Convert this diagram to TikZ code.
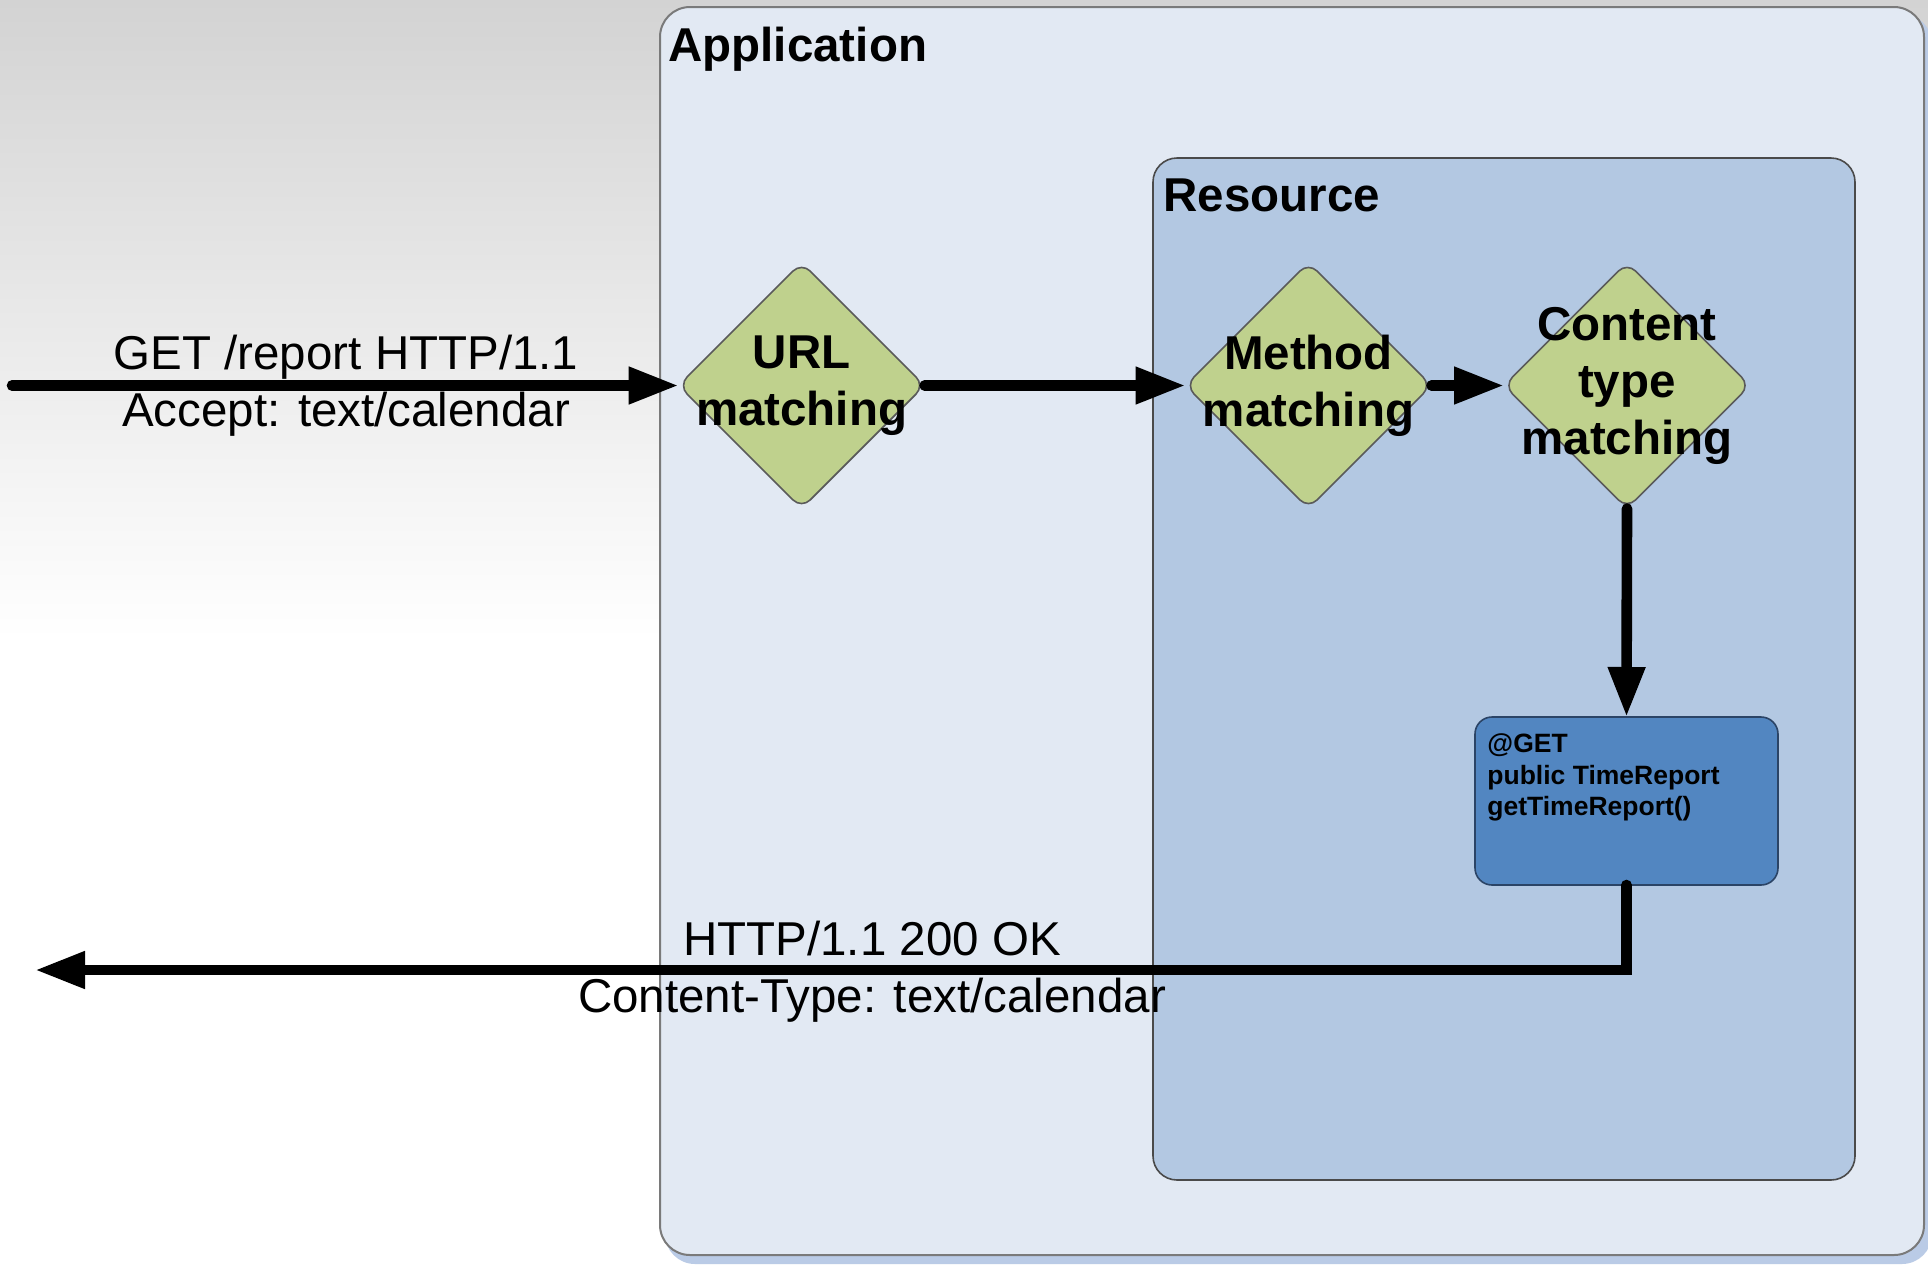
\documentclass[tikz,border=0pt]{standalone}
\usepackage{fontspec}
\setmainfont{Liberation Sans}
\usetikzlibrary{shapes.geometric,arrows.meta}
\definecolor{appfill}{HTML}{E2E9F3}
\definecolor{appline}{HTML}{7A7A7A}
\definecolor{resfill}{HTML}{B3C8E2}
\definecolor{resline}{HTML}{4A4A4A}
\definecolor{decfill}{HTML}{BFD18D}
\definecolor{decline}{HTML}{5A5A5A}
\definecolor{methfill}{HTML}{5286C1}
\definecolor{methline}{HTML}{2B4466}
\definecolor{shadowblue}{HTML}{BACBE6}
\definecolor{bggray}{HTML}{D3D3D3}
\begin{document}
\begin{tikzpicture}[x=0.5pt,y=-0.5pt,
  appbox/.style={rectangle, draw=appline, line width=1pt, fill=appfill, rounded corners=15pt,
    minimum width=632pt, minimum height=624pt, inner sep=0pt, outer sep=0pt},
  resbox/.style={rectangle, draw=resline, line width=0.8pt, fill=resfill, rounded corners=12pt,
    minimum width=351pt, minimum height=511pt, inner sep=0pt, outer sep=0pt},
  methbox/.style={rectangle, draw=methline, line width=0.8pt, fill=methfill, rounded corners=8.5pt,
    minimum width=151.5pt, minimum height=84pt, inner sep=0pt, outer sep=0pt},
  decision/.style={diamond, draw=decline, line width=0.8pt, fill=decfill,
    minimum width=123pt, minimum height=123pt, inner sep=0pt, outer sep=0pt, rounded corners=6pt},
  title/.style={font=\fontsize{23.75}{28.5}\selectfont\bfseries, inner sep=0pt, anchor=base west},
  dectext/.style={font=\fontsize{23.75}{28.5}\selectfont\bfseries, align=center, inner sep=0pt},
  msgtext/.style={font=\fontsize{23.75}{28.5}\selectfont, align=center, inner sep=0pt},
  codetext/.style={font=\fontsize{13.25}{15.8}\selectfont\bfseries, align=left, inner sep=0pt, anchor=north west},
  flow/.style={line width=5.3pt, line cap=round, -{Triangle[length=25pt,width=17.5pt]}},
]
\useasboundingbox (0,0) rectangle (1928,1270);
% background
\fill[white] (0,0) rectangle (1928,1270);
\shade[top color=bggray, bottom color=white] (0,0) rectangle (1928,640);
% application shadow
\fill[shadowblue, rounded corners=15pt] (665,14) rectangle (1932,1264);
% containers
\node[appbox] (app) at (1292,631) {};
\node[title] (apptitle) at (668,61) {Application};
\node[resbox] (res) at (1504,669) {};
\node[title] (restitle) at (1163,211) {Resource};
% decisions
\node[decision] (url) at (801.6,385.5) {};
\node[decision] (meth) at (1308.5,385.5) {};
\node[decision] (cont) at (1627,385.5) {};
% method box
\node[methbox] (get) at (1626.5,801) {};
\node[codetext] (gettext) at (1487,733.5) {@GET\\public TimeReport\\getTimeReport()};
% connectors
\coordinate (in) at (12,385.5);
\coordinate (outend) at (35,970);
\draw[flow] (in) -- (url.west);
\draw[flow] (url.east) -- (meth.west);
\draw[flow] (meth.east) -- (cont.west);
\draw[flow] (cont.south) -- (get.north);
\draw[flow] (get.south) |- (outend);
% texts
\node[dectext] (urlt) at (url) {URL\\matching};
\node[dectext] (metht) at (meth) {Method\\matching};
\node[dectext] (contt) at (cont) {Content\\type\\matching};
\node[msgtext] (req) at (346,385.6) {GET /report HTTP/1.1\\Accept: text/calendar};
\node[msgtext] (resp) at (872,971.5) {HTTP/1.1 200 OK\\Content-Type: text/calendar};
\end{tikzpicture}
\end{document}
